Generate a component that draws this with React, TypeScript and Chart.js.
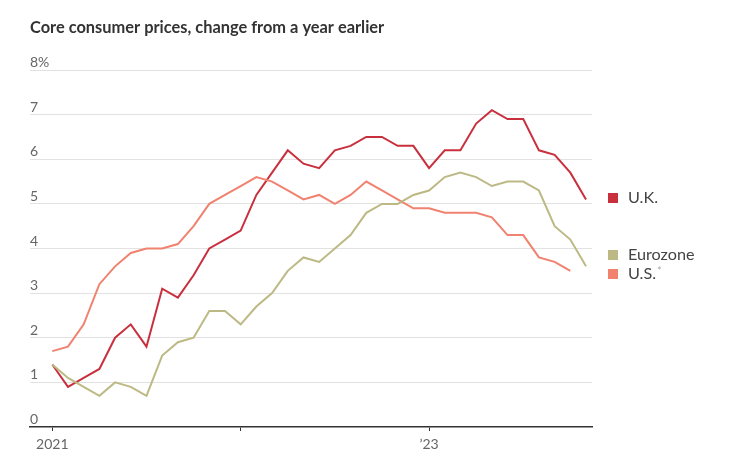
import React, { useEffect, useRef } from "react";
import { Chart, registerables } from "chart.js";

Chart.register(...registerables);

const title = "Core consumer prices, change from a year earlier";
const monthIndex = Array.from({ length: 35 }, (_, i) => i); // Jan 2021 .. Nov 2023
const ukValues = [
  1.4, 0.9, 1.1, 1.3, 2.0, 2.3, 1.8, 3.1, 2.9, 3.4, 4.0, 4.2,
  4.4, 5.2, 5.7, 6.2, 5.9, 5.8, 6.2, 6.3, 6.5, 6.5, 6.3, 6.3,
  5.8, 6.2, 6.2, 6.8, 7.1, 6.9, 6.9, 6.2, 6.1, 5.7, 5.1,
];
const euroValues = [
  1.4, 1.1, 0.9, 0.7, 1.0, 0.9, 0.7, 1.6, 1.9, 2.0, 2.6, 2.6,
  2.3, 2.7, 3.0, 3.5, 3.8, 3.7, 4.0, 4.3, 4.8, 5.0, 5.0, 5.2,
  5.3, 5.6, 5.7, 5.6, 5.4, 5.5, 5.5, 5.3, 4.5, 4.2, 3.6,
];
const usValues = [
  1.7, 1.8, 2.3, 3.2, 3.6, 3.9, 4.0, 4.0, 4.1, 4.5, 5.0, 5.2,
  5.4, 5.6, 5.5, 5.3, 5.1, 5.2, 5.0, 5.2, 5.5, 5.3, 5.1, 4.9,
  4.9, 4.8, 4.8, 4.8, 4.7, 4.3, 4.3, 3.8, 3.7, 3.5,
];
const yTicks = [0, 1, 2, 3, 4, 5, 6, 7, 8];
const yTickLabels = ["0", "1", "2", "3", "4", "5", "6", "7", "8%"];
const xTickPositions = [0, 12, 24];
const xTickLabels = ["2021", "", "\u201923"];
const legendItems = [
  { label: "U.K.", sup: "", color: "#c9303e" },
  { label: "Eurozone", sup: "", color: "#bdb985" },
  { label: "U.S.", sup: "*", color: "#f0826f" },
];

const FONT = "Lato, 'Open Sans', sans-serif";

export default function App() {
  const ref = useRef<HTMLCanvasElement | null>(null);

  useEffect(() => {
    if (!ref.current) return;
    const toPts = (arr: number[]) => arr.map((v, i) => ({ x: monthIndex[i], y: v }));

    const overlay = {
      id: "overlay",
      afterDraw(chart: any) {
        const ctx = chart.ctx as CanvasRenderingContext2D;
        const ys = chart.scales.y;
        const area = chart.chartArea;
        ctx.save();
        // title
        ctx.fillStyle = "#333";
        ctx.font = `bold 16.4px ${FONT}`;
        ctx.textAlign = "left";
        ctx.textBaseline = "alphabetic";
        ctx.fillText(title, 30, 33);
        // y labels above gridlines
        ctx.fillStyle = "#666";
        ctx.font = `14px ${FONT}`;
        ctx.textBaseline = "alphabetic";
        yTicks.forEach((t, i) => {
          const py = ys.getPixelForValue(t);
          ctx.fillText(yTickLabels[i], area.left, py - 3);
        });
        // legend
        const legendY = [198, 255, 274];
        legendItems.forEach((it, i) => {
          const cy = legendY[i];
          ctx.fillStyle = it.color;
          ctx.fillRect(608, cy - 5, 10, 10);
          ctx.fillStyle = "#444";
          ctx.font = `16.2px ${FONT}`;
          ctx.textBaseline = "middle";
          ctx.fillText(it.label, 628, cy);
          if (it.sup) {
            const w = ctx.measureText(it.label).width;
            ctx.fillStyle = "#aaa";
            ctx.font = `11px ${FONT}`;
            ctx.textBaseline = "top";
            ctx.fillText(it.sup, 628 + w + 1, cy - 8);
          }
        });
        ctx.restore();
      },
    };

    const chart = new Chart(ref.current, {
      type: "line",
      data: {
        datasets: [
          { label: "Eurozone", data: toPts(euroValues), borderColor: "#bdb985", borderWidth: 2, pointRadius: 0, tension: 0 },
          { label: "U.S.", data: toPts(usValues), borderColor: "#f0826f", borderWidth: 2, pointRadius: 0, tension: 0 },
          { label: "U.K.", data: toPts(ukValues), borderColor: "#c9303e", borderWidth: 2, pointRadius: 0, tension: 0 },
        ],
      },
      options: {
        animation: false,
        responsive: false,
        maintainAspectRatio: false,
        layout: { padding: { left: 30, right: 141, top: 70, bottom: 0 } },
        plugins: { legend: { display: false }, tooltip: { enabled: false } },
        scales: {
          x: {
            type: "linear",
            min: -1.42,
            max: 34.38,
            afterFit: (s: any) => { s.height = 37; },
            afterBuildTicks: (s: any) => { s.ticks = xTickPositions.map((v) => ({ value: v })); },
            ticks: {
              autoSkip: false,
              maxRotation: 0,
              padding: 5,
              color: "#666",
              font: { family: FONT, size: 14 },
              callback: (v: any) => {
                const i = xTickPositions.indexOf(Number(v));
                return i >= 0 ? xTickLabels[i] : "";
              },
            },
            grid: { drawOnChartArea: false, drawTicks: true, tickLength: 4, color: "#333", lineWidth: 1 },
            border: { display: true, color: "#333", width: 1.5 },
          },
          y: {
            min: 0,
            max: 8,
            afterFit: (s: any) => { s.width = 0; },
            afterBuildTicks: (s: any) => { s.ticks = yTicks.map((v) => ({ value: v })); },
            ticks: { display: false },
            grid: { color: (c: any) => (c.tick && c.tick.value === 0 ? "rgba(0,0,0,0)" : "#e2e2e2"), lineWidth: 1, drawTicks: false },
            border: { display: false },
          },
        },
      },
      plugins: [overlay],
    } as any);
    return () => chart.destroy();
  }, []);

  return (
    <div style={{ position: "fixed", left: 0, top: 0, width: 733, height: 464, background: "#fff" }}>
      <canvas ref={ref} width={733} height={464} style={{ width: 733, height: 464 }} />
    </div>
  );
}
